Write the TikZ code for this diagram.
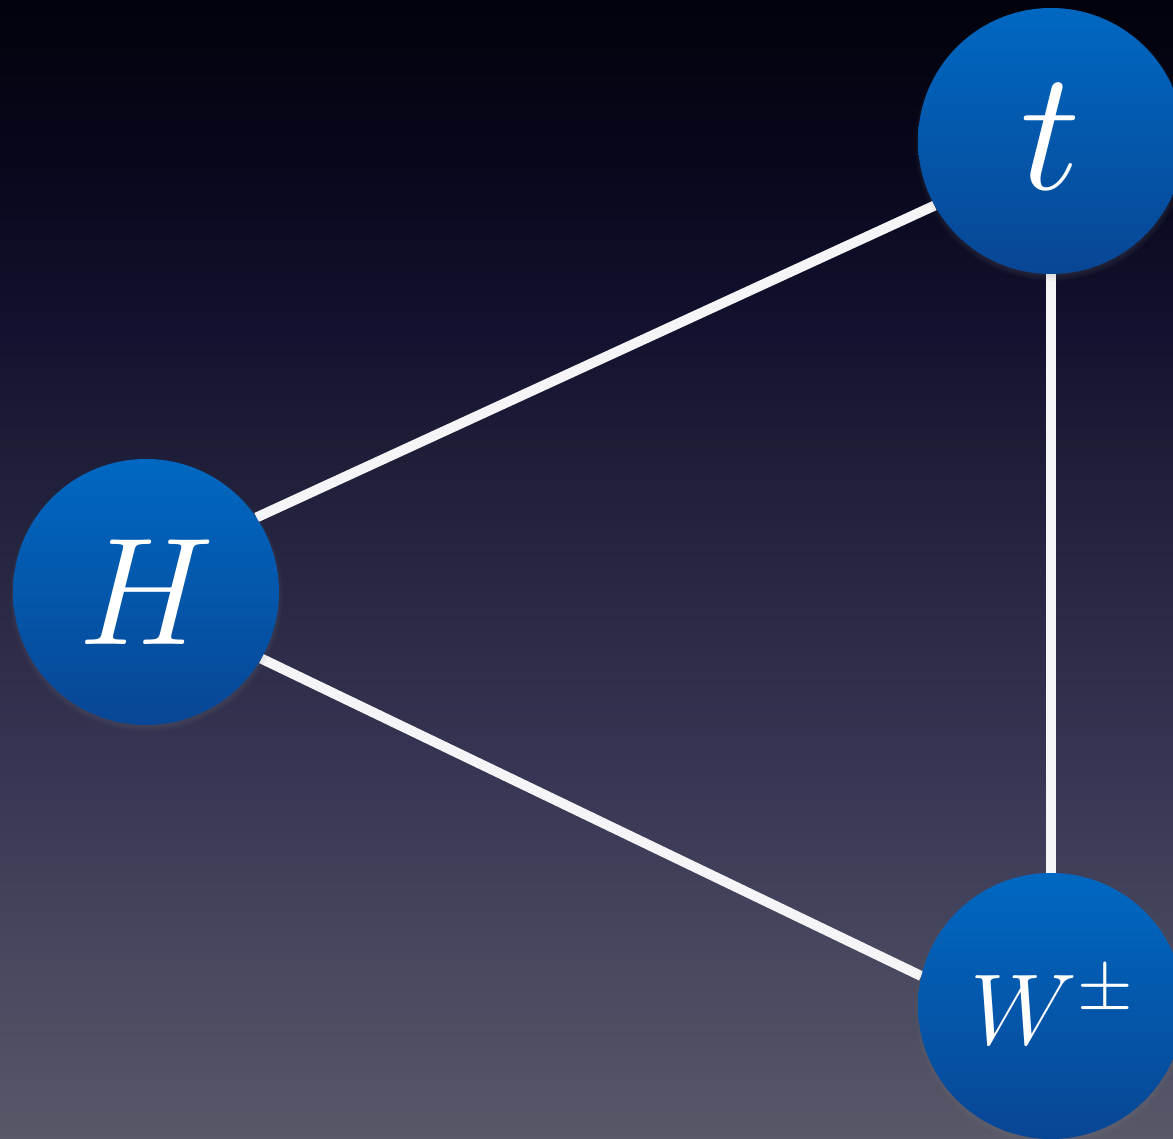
\documentclass[tikz,border=0pt]{standalone}
\usepackage{graphicx}
\usetikzlibrary{shadows}
\definecolor{bga}{RGB}{2,2,12}
\definecolor{bgb}{RGB}{8,8,30}
\definecolor{bgc}{RGB}{18,18,48}
\definecolor{bgd}{RGB}{28,28,55}
\definecolor{bge}{RGB}{55,55,85}
\definecolor{bgf}{RGB}{88,88,105}
\definecolor{balltop}{RGB}{0,104,194}
\definecolor{ballbot}{RGB}{8,70,148}
\definecolor{linkcol}{RGB}{245,245,247}
\pgfdeclareverticalshading{bgshade}{100bp}{color(0bp)=(bgf); color(25bp)=(bgf); color(40.75bp)=(bge); color(56bp)=(bgd); color(60.5bp)=(bgc); color(67bp)=(bgb); color(75bp)=(bga); color(100bp)=(bga)}
\pgfdeclarelayer{bg}
\pgfdeclarelayer{links}
\pgfsetlayers{bg,links,main}
\tikzset{
  ball/.style={circle, minimum size=266pt, inner sep=0pt, text=white,
    top color=balltop, bottom color=ballbot,
    circular drop shadow={shadow xshift=0pt, shadow yshift=-3pt, shadow scale=1.03, opacity=0.5}},
  link/.style={draw=linkcol, line width=10pt}
}
\begin{document}
\begin{tikzpicture}[x=1pt,y=-1pt]
\begin{pgfonlayer}{bg}
\shade[shading=bgshade] (0,0) rectangle (1173,1139);
\end{pgfonlayer}
\useasboundingbox (0,0) rectangle (1173,1139);
\node[ball] (t) at (1051,141) {\raisebox{8pt}{\scalebox{14.25}{\fontsize{12}{14}\selectfont$t$}}};
\node[ball] (H) at (146,592) {\scalebox{12.75}{\fontsize{12}{14}\selectfont$H$}};
\node[ball] (W) at (1051,1006) {\hspace*{6pt}\scalebox{8.4}{\fontsize{12}{14}\selectfont$W^{\pm}$}};
\begin{pgfonlayer}{links}
\draw[link] (H.34) -- (t.209);
\draw[link] (H.-30) -- (W.167);
\draw[link] (t.south) -- (W.north);
\end{pgfonlayer}
\end{tikzpicture}
\end{document}
